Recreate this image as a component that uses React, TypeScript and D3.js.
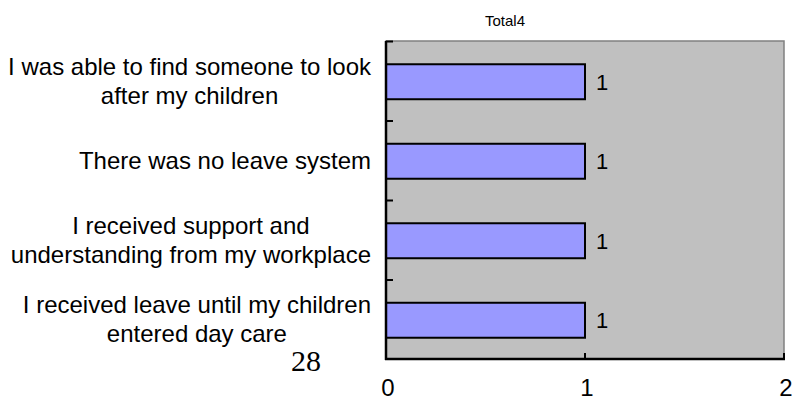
import React, { useEffect, useRef } from "react";
import * as d3 from "d3";

const categories: string[] = [
  "I was able to find someone to look\nafter my children",
  "There was no leave system",
  "I received support and\nunderstanding from my workplace",
  "I received leave until my children\nentered day care",
];
const values: number[] = [1, 1, 1, 1];
const xTicks: number[] = [0, 1, 2];
const chartTitle = "Total4";
const pageNumber = "28";

const W = 792;
const H = 399;
const plot = { left: 386, right: 784, top: 41, bottom: 359 };
const FONT = "Arial, 'Liberation Sans', sans-serif";

export default function App() {
  const ref = useRef<SVGSVGElement | null>(null);

  useEffect(() => {
    const svg = d3.select(ref.current);
    svg.selectAll("*").remove();

    const x = d3.scaleLinear().domain([0, 2]).range([plot.left, plot.right]);
    const yBand = d3
      .scaleBand<number>()
      .domain(d3.range(categories.length))
      .range([plot.top, plot.bottom]);
    const yBar = d3
      .scaleBand<number>()
      .domain(d3.range(categories.length))
      .range([plot.top, plot.bottom])
      .paddingInner(0.56)
      .paddingOuter(0.28);

    // plot background
    svg
      .append("rect")
      .attr("x", plot.left)
      .attr("y", plot.top)
      .attr("width", plot.right - plot.left)
      .attr("height", plot.bottom - plot.top)
      .attr("fill", "#C0C0C0")
      .attr("stroke", "#808080")
      .attr("stroke-width", 1.5);

    // bars
    svg
      .selectAll("rect.bar")
      .data(values)
      .enter()
      .append("rect")
      .attr("class", "bar")
      .attr("x", x(0))
      .attr("y", (_d, i) => yBar(i)! + 1)
      .attr("width", (d) => x(d) - x(0))
      .attr("height", yBar.bandwidth())
      .attr("fill", "#9999FF")
      .attr("stroke", "#000")
      .attr("stroke-width", 2);

    // value labels
    svg
      .selectAll("text.val")
      .data(values)
      .enter()
      .append("text")
      .attr("class", "val")
      .attr("x", (d) => x(d) + 11)
      .attr("y", (_d, i) => yBar(i)! + 1 + yBar.bandwidth() / 2)
      .attr("dy", "0.36em")
      .attr("font-family", FONT)
      .attr("font-size", 22)
      .attr("fill", "#000")
      .text((d) => String(d));

    // y axis line + inward ticks at band boundaries
    svg
      .append("line")
      .attr("x1", plot.left)
      .attr("x2", plot.left)
      .attr("y1", plot.top)
      .attr("y2", plot.bottom + 1)
      .attr("stroke", "#000")
      .attr("stroke-width", 2.5);
    const boundaries = d3.range(categories.length).map((i) => yBand(i)!);
    svg
      .selectAll("line.ytick")
      .data(boundaries)
      .enter()
      .append("line")
      .attr("class", "ytick")
      .attr("x1", plot.left)
      .attr("x2", plot.left + 7)
      .attr("y1", (d) => d + 0.5)
      .attr("y2", (d) => d + 0.5)
      .attr("stroke", "#000")
      .attr("stroke-width", 2);

    // x axis line + inward ticks
    svg
      .append("line")
      .attr("x1", plot.left - 1)
      .attr("x2", plot.right + 1)
      .attr("y1", plot.bottom)
      .attr("y2", plot.bottom)
      .attr("stroke", "#000")
      .attr("stroke-width", 2.5);
    svg
      .selectAll("line.xtick")
      .data(xTicks)
      .enter()
      .append("line")
      .attr("class", "xtick")
      .attr("x1", (d) => x(d))
      .attr("x2", (d) => x(d))
      .attr("y1", plot.bottom)
      .attr("y2", plot.bottom - 6)
      .attr("stroke", "#000")
      .attr("stroke-width", 2);
    svg
      .selectAll("text.xlab")
      .data(xTicks)
      .enter()
      .append("text")
      .attr("class", "xlab")
      .attr("x", (d) => x(d) + 2)
      .attr("y", 396)
      .attr("text-anchor", "middle")
      .attr("font-family", FONT)
      .attr("font-size", 24)
      .attr("fill", "#000")
      .text((d) => String(d));

    // category labels: centered multi-line block, right-aligned at 371
    const lineH = 29;
    categories.forEach((cat, i) => {
      const lines = cat.split("\n");
      const g = svg.append("g");
      const texts = lines.map((ln, j) =>
        g
          .append("text")
          .attr("font-family", FONT)
          .attr("font-size", 24)
          .attr("fill", "#000")
          .attr("text-anchor", "middle")
          .attr("y", yBand(i)! + yBand.bandwidth() / 2 + (j - (lines.length - 1) / 2) * lineH)
          .attr("dy", "0.36em")
          .text(ln)
      );
      const maxW = d3.max(texts, (t) => (t.node() as SVGTextElement).getComputedTextLength()) || 0;
      const cx = 371 - maxW / 2;
      texts.forEach((t) => t.attr("x", cx));
    });

    // title
    svg
      .append("text")
      .attr("x", 505)
      .attr("y", 26)
      .attr("text-anchor", "middle")
      .attr("font-family", FONT)
      .attr("font-size", 15)
      .attr("fill", "#000")
      .text(chartTitle);

    // page number
    svg
      .append("text")
      .attr("x", 306)
      .attr("y", 371)
      .attr("text-anchor", "middle")
      .attr("font-family", "'Times New Roman', 'Liberation Serif', serif")
      .attr("font-size", 30)
      .attr("fill", "#000")
      .text(pageNumber);
  }, []);

  return (
    <svg
      ref={ref}
      width={W}
      height={H}
      style={{ position: "absolute", left: 0, top: 0, background: "#fff" }}
    />
  );
}
